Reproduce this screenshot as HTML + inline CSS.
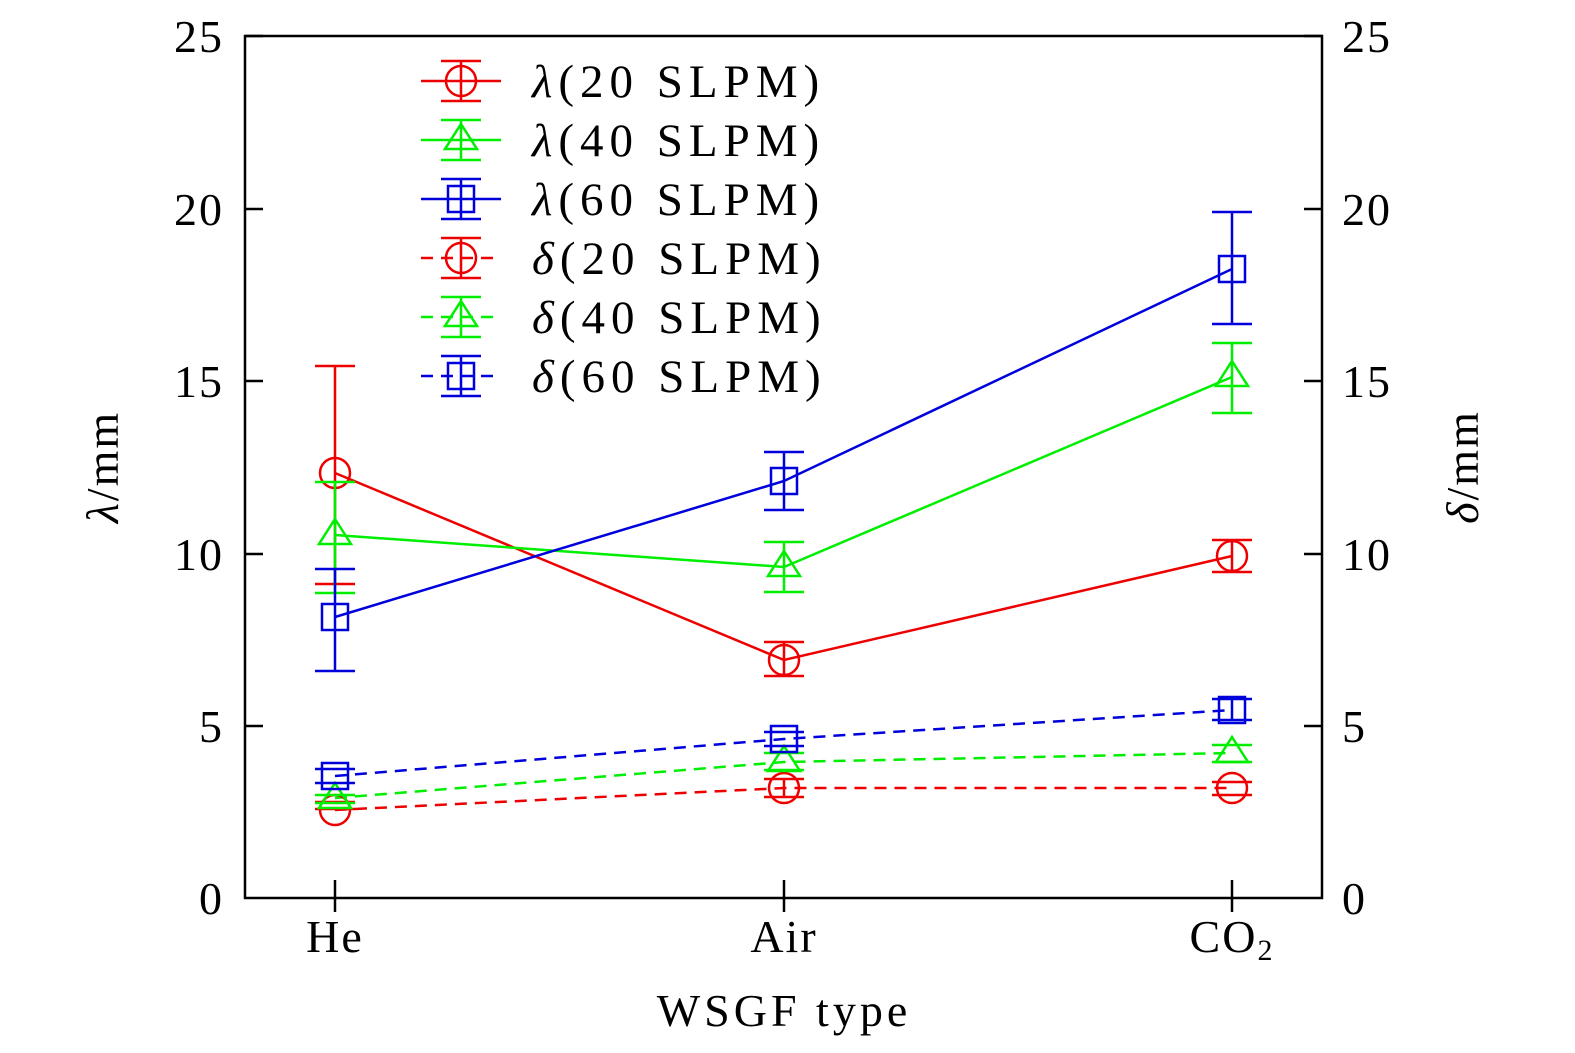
<!DOCTYPE html><html><head><style>html,body{margin:0;padding:0;background:#fff;overflow:hidden}svg{display:block}</style></head><body>
<svg width="1575" height="1053" xmlns="http://www.w3.org/2000/svg" font-family="'Liberation Serif',serif" font-size="46">
<rect x="245" y="36" width="1077" height="862" fill="none" stroke="#000" stroke-width="2.5"/>
<g stroke="#000" stroke-width="2.5">
<line x1="245" y1="36" x2="263" y2="36"/><line x1="245" y1="209" x2="263" y2="209"/><line x1="245" y1="381" x2="263" y2="381"/><line x1="245" y1="554" x2="263" y2="554"/><line x1="245" y1="726" x2="263" y2="726"/>
<line x1="1322" y1="36" x2="1304" y2="36"/><line x1="1322" y1="209" x2="1304" y2="209"/><line x1="1322" y1="381" x2="1304" y2="381"/><line x1="1322" y1="554" x2="1304" y2="554"/><line x1="1322" y1="726" x2="1304" y2="726"/>
<line x1="335" y1="898" x2="335" y2="880"/><line x1="784" y1="898" x2="784" y2="880"/><line x1="1232" y1="898" x2="1232" y2="880"/>
<line x1="335" y1="898" x2="335" y2="912"/><line x1="784" y1="898" x2="784" y2="912"/><line x1="1232" y1="898" x2="1232" y2="912"/>
</g>
<g text-anchor="end" letter-spacing="2"><text x="224" y="52">25</text><text x="224" y="225">20</text><text x="224" y="397">15</text><text x="224" y="570">10</text><text x="224" y="742">5</text><text x="224" y="914">0</text></g>
<g text-anchor="start" letter-spacing="2"><text x="1342" y="52">25</text><text x="1342" y="225">20</text><text x="1342" y="397">15</text><text x="1342" y="570">10</text><text x="1342" y="742">5</text><text x="1342" y="914">0</text></g>
<g text-anchor="middle" letter-spacing="2"><text x="335" y="952">He</text><text x="784" y="952">Air</text><text x="1232" y="952">CO<tspan font-size="30" dy="8">2</tspan></text>
<text x="784" y="1026" letter-spacing="4">WSGF type</text></g>
<text transform="translate(118,467) rotate(-90)" text-anchor="middle" letter-spacing="2"><tspan font-style="italic">λ</tspan>/mm</text>
<text transform="translate(1478,467) rotate(-90)" text-anchor="middle" letter-spacing="2"><tspan font-style="italic">δ</tspan>/mm</text>
<g fill="none" stroke-width="2.5">
<g stroke="#e00">
<polyline points="335,473 784,660 1232,556"/>
<path d="M335,366V584M315,366H355M315,584H355M784,642V676M764,642H804M764,676H804M1232,540V572M1212,540H1252M1212,572H1252"/>
<circle cx="335" cy="473" r="15"/><circle cx="784" cy="660" r="15"/><circle cx="1232" cy="556" r="15"/>
</g>
<g stroke="#0e0">
<polyline points="335,535 784,567 1232,377"/>
<path d="M335,482V593M315,482H355M315,593H355M784,542V592M764,542H804M764,592H804M1232,343V413M1212,343H1252M1212,413H1252"/>
<path d="M335,519L351,544H319Z M784,551L800,576H768Z M1232,361L1248,386H1216Z"/>
</g>
<g stroke="#00d">
<polyline points="335,617 784,481 1232,269"/>
<path d="M335,569V671M315,569H355M315,671H355M784,452V510M764,452H804M764,510H804M1232,212V324M1212,212H1252M1212,324H1252"/>
<rect x="322" y="604" width="26" height="26"/><rect x="771" y="468" width="26" height="26"/><rect x="1219" y="256" width="26" height="26"/>
</g>
<g stroke-dasharray="12,8">
<polyline stroke="#e00" points="335,810 784,788 1232,788"/>
<polyline stroke="#0e0" points="335,798 784,762 1232,753"/>
<polyline stroke="#00d" points="335,776 784,739 1232,710"/>
</g>
<g stroke="#e00"><circle cx="335" cy="810" r="15"/><circle cx="784" cy="788" r="15"/><circle cx="1232" cy="788" r="15"/>
<path d="M315,809H355M315,802H355M764,779H804M764,797H804M1212,782H1252M1212,795H1252M784,779V797"/></g>
<g stroke="#0e0"><path d="M335,783L351,808H319Z M784,746L800,771H768Z M1232,737L1248,762H1216Z"/>
<path d="M315,795H355M315,803H355M764,753H804M764,770H804M1212,745H1252M1212,762H1252"/></g>
<g stroke="#00d"><rect x="322" y="763" width="26" height="26"/><rect x="771" y="726" width="26" height="26"/><rect x="1219" y="697" width="26" height="26"/>
<path d="M315,769H355M315,783H355M764,732H804M764,746H804M1212,699H1252M1212,720H1252M1232,699V720"/></g>
<g stroke="#e00"><line x1="421" y1="81" x2="501" y2="81"/><path d="M461,61V101M441,61H481M441,101H481"/><circle cx="461" cy="81" r="15"/></g>
<g stroke="#0e0"><line x1="421" y1="140" x2="501" y2="140"/><path d="M461,120V160M441,120H481M441,160H481M461,124L477,149H445Z"/></g>
<g stroke="#00d"><line x1="421" y1="199" x2="501" y2="199"/><path d="M461,179V219M441,179H481M441,219H481"/><rect x="448" y="186" width="26" height="26"/></g>
<g stroke-dasharray="12,8">
<line stroke="#e00" x1="421" y1="258" x2="501" y2="258"/><line stroke="#0e0" x1="421" y1="317" x2="501" y2="317"/><line stroke="#00d" x1="421" y1="376" x2="501" y2="376"/></g>
<g stroke="#e00"><path d="M461,238V278M441,238H481M441,278H481"/><circle cx="461" cy="258" r="15"/></g>
<g stroke="#0e0"><path d="M461,297V337M441,297H481M441,337H481M461,301L477,326H445Z"/></g>
<g stroke="#00d"><path d="M461,356V396M441,356H481M441,396H481"/><rect x="448" y="363" width="26" height="26"/></g>
</g>
<g font-size="47" letter-spacing="6">
<text x="532" y="97"><tspan font-style="italic">λ</tspan>(20 SLPM)</text>
<text x="532" y="156"><tspan font-style="italic">λ</tspan>(40 SLPM)</text>
<text x="532" y="215"><tspan font-style="italic">λ</tspan>(60 SLPM)</text>
<text x="532" y="274"><tspan font-style="italic">δ</tspan>(20 SLPM)</text>
<text x="532" y="333"><tspan font-style="italic">δ</tspan>(40 SLPM)</text>
<text x="532" y="392"><tspan font-style="italic">δ</tspan>(60 SLPM)</text>
</g>
</svg></body></html>
